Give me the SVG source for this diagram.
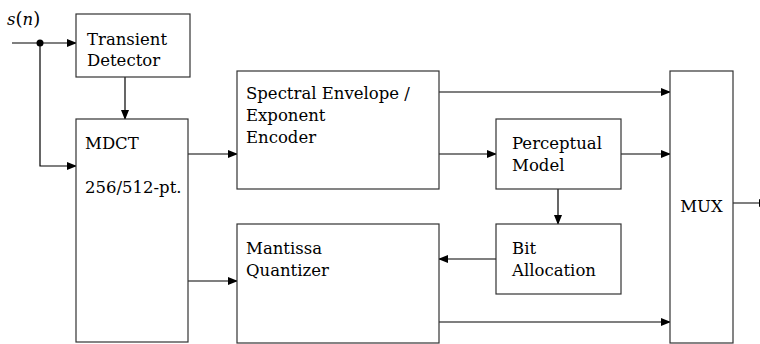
<svg xmlns="http://www.w3.org/2000/svg" width="760" height="344" viewBox="0 0 760 344">
<style>
.box{fill:#fff;stroke:#333;stroke-width:1.2}
.ln{fill:none;stroke:#000;stroke-width:1.2}
text{font-family:"DejaVu Serif","Liberation Serif",serif;font-size:16.5px;fill:#000}
</style>
<defs>
<marker id="ah" markerWidth="10" markerHeight="8" refX="9" refY="4" orient="auto" markerUnits="userSpaceOnUse">
<path d="M0,0 L10,4 L0,8 Z" fill="#000"/>
</marker>
</defs>
<rect width="760" height="344" fill="#fff"/>
<g id="connectors">
<path class="ln" d="M12,43 H76" marker-end="url(#ah)"/>
<circle cx="40" cy="43" r="3.5" fill="#000"/>
<path class="ln" d="M40,43 V166 H76" marker-end="url(#ah)"/>
<path class="ln" d="M125,77 V119" marker-end="url(#ah)"/>
<path class="ln" d="M188,154 H237" marker-end="url(#ah)"/>
<path class="ln" d="M188,281 H237" marker-end="url(#ah)"/>
<path class="ln" d="M439,92 H670" marker-end="url(#ah)"/>
<path class="ln" d="M439,154 H496" marker-end="url(#ah)"/>
<path class="ln" d="M621,154 H670" marker-end="url(#ah)"/>
<path class="ln" d="M558,189 V224" marker-end="url(#ah)"/>
<path class="ln" d="M496,259 H439" marker-end="url(#ah)"/>
<path class="ln" d="M439,322 H670" marker-end="url(#ah)"/>
<path class="ln" d="M733,203 H768" marker-end="url(#ah)"/>
</g>
<g id="input-label">
<text x="7" y="25"><tspan font-style="italic">s</tspan><tspan font-size="18">(</tspan><tspan font-style="italic">n</tspan><tspan font-size="18">)</tspan></text>
</g>
<g id="transient-detector">
<rect class="box" x="76" y="14" width="114" height="63"/>
<text x="87" y="45">Transient</text>
<text x="87" y="66">Detector</text>
</g>
<g id="mdct">
<rect class="box" x="76" y="119" width="112" height="223"/>
<text x="85" y="149">MDCT</text>
<text x="85" y="193">256/512-pt.</text>
</g>
<g id="spectral-envelope">
<rect class="box" x="237" y="71" width="202" height="118"/>
<text x="246" y="99">Spectral Envelope /</text>
<text x="246" y="121">Exponent</text>
<text x="246" y="143">Encoder</text>
</g>
<g id="perceptual-model">
<rect class="box" x="496" y="119" width="125" height="70"/>
<text x="512" y="149">Perceptual</text>
<text x="512" y="171">Model</text>
</g>
<g id="bit-allocation">
<rect class="box" x="496" y="224" width="125" height="70"/>
<text x="512" y="254">Bit</text>
<text x="512" y="276">Allocation</text>
</g>
<g id="mantissa-quantizer">
<rect class="box" x="237" y="224" width="202" height="119"/>
<text x="246" y="254">Mantissa</text>
<text x="246" y="276">Quantizer</text>
</g>
<g id="mux">
<rect class="box" x="670" y="71" width="63" height="272"/>
<text x="701.5" y="212" text-anchor="middle">MUX</text>
</g>
</svg>
